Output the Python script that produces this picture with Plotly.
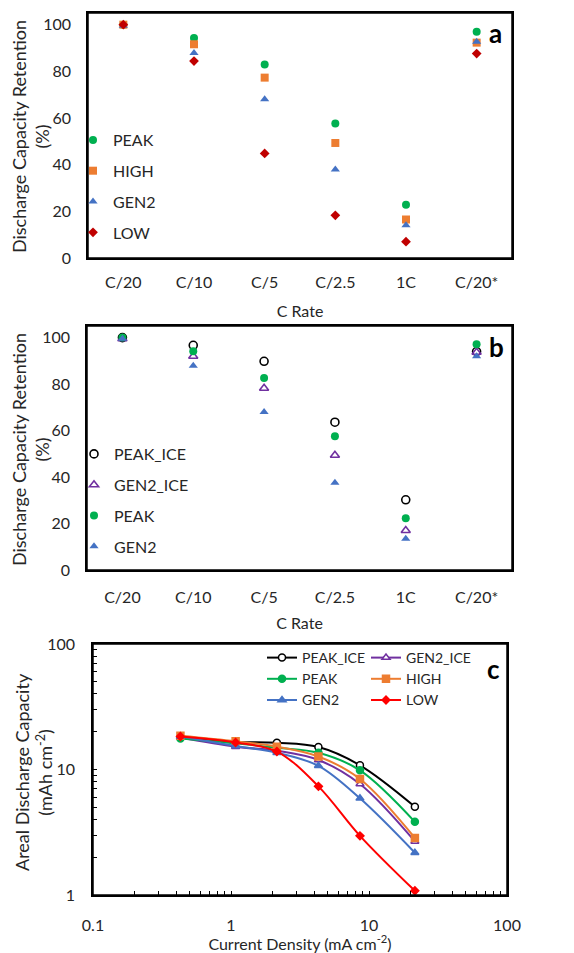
import plotly.graph_objects as go

# ---------------- data ----------------
rates = ["C/20", "C/10", "C/5", "C/2.5", "1C", "C/20*"]

# panel a (%)
a_peak = [100, 94.3, 82.9, 57.6, 22.8, 97.0]
a_high = [100, 91.6, 77.3, 49.3, 16.5, 92.3]
a_gen2 = [99.5, 87.9, 68.0, 37.9, 14.0, 92.7]
a_low = [100, 84.4, 44.8, 18.3, 7.0, 87.6]

# panel b (%)
b_peak_ice = [100, 96.7, 89.8, 63.6, 30.2, 94.0]
b_gen2_ice = [99.5, 92.0, 78.2, 49.4, 17.0, 93.7]
b_peak = [100, 94.1, 82.6, 57.6, 22.3, 97.1]
b_gen2 = [99.5, 87.9, 68.0, 37.5, 13.5, 92.0]

# panel c (mA cm-2, mAh cm-2)
current = [0.43, 1.08, 2.15, 4.3, 8.6, 21.5]
c_peak_ice = [18.0, 16.6, 16.3, 15.1, 10.8, 5.05]
c_gen2_ice = [18.0, 15.2, 14.1, 11.9, 7.66, 2.67]
c_peak = [17.7, 16.2, 14.9, 13.6, 9.85, 3.83]
c_high = [18.6, 16.8, 15.2, 12.7, 8.4, 2.85]
c_gen2 = [18.3, 15.4, 13.6, 10.7, 5.89, 2.17]
c_low = [18.3, 16.4, 13.9, 7.34, 2.96, 1.08]

FONT = "Lato"
W, H = 574, 953
GREEN = "#00B050"
ORANGE = "#ED7D31"
BLUE = "#4472C4"
DARKRED = "#C00000"
PURPLE = "#7030A0"
RED = "#FF0000"
TXT = "#262626"


def px_x(p):
    return p / W


def px_y(p):
    return 1 - p / H


fig = go.Figure()

# ---------- panel a ----------
for name, vals, sym, col in [
    ("PEAK", a_peak, "circle", GREEN),
    ("HIGH", a_high, "square", ORANGE),
    ("GEN2", a_gen2, "triangle-up", BLUE),
    ("LOW", a_low, "diamond", DARKRED),
]:
    fig.add_trace(go.Scatter(
        x=rates, y=vals, mode="markers", name=name,
        marker=dict(symbol=sym, color=col, size=8 if sym != "diamond" else 7.5, line=dict(width=0)),
        xaxis="x", yaxis="y", legend="legend", legendgroup="a_" + name,
    ))

# ---------- panel b ----------
for name, vals, sym, col, lc in [
    ("PEAK_ICE", b_peak_ice, "circle-open", "black", "black"),
    ("GEN2_ICE", b_gen2_ice, "triangle-up-open", PURPLE, PURPLE),
    ("PEAK", b_peak, "circle", GREEN, GREEN),
    ("GEN2", b_gen2, "triangle-up", BLUE, BLUE),
]:
    fig.add_trace(go.Scatter(
        x=rates, y=vals, mode="markers", name=name,
        marker=dict(symbol=sym, color=col, size=8,
                    line=dict(width=1.6 if "open" in sym else 0, color=lc)),
        xaxis="x2", yaxis="y2", legend="legend2", legendgroup="b_" + name,
    ))

# ---------- panel c ----------
c_series = [
    ("PEAK_ICE", c_peak_ice, "circle", "white", "black", "legend3"),
    ("GEN2_ICE", c_gen2_ice, "triangle-up", "white", PURPLE, "legend4"),
    ("PEAK", c_peak, "circle", GREEN, GREEN, "legend3"),
    ("HIGH", c_high, "square", ORANGE, ORANGE, "legend4"),
    ("GEN2", c_gen2, "triangle-up", BLUE, BLUE, "legend3"),
    ("LOW", c_low, "diamond", RED, RED, "legend4"),
]
for name, vals, sym, fill, lc, lg in c_series:
    fig.add_trace(go.Scatter(
        x=current, y=vals, mode="lines+markers", name=name,
        line=dict(color=lc, width=2, shape="spline", smoothing=1.0),
        marker=dict(symbol=sym, color=fill, size=7 if sym != "diamond" else 6,
                    line=dict(color=lc, width=1.5)),
        xaxis="x3", yaxis="y3", legend=lg,
    ))

tickfont = dict(family=FONT, size=16, color=TXT)
titlefont = dict(family=FONT, size=16, color=TXT)
ytitlefont = dict(family=FONT, size=18, color=TXT)

cat_x = dict(
    type="category", range=[-0.5, 5.5], showline=True, linecolor="black", linewidth=1.5,
    mirror=True, ticks="", showgrid=False, zeroline=False, tickfont=tickfont,
    fixedrange=True, automargin=False,
)
pct_y = dict(
    range=[0, 105], tickvals=[0, 20, 40, 60, 80, 100], showline=True, linecolor="black",
    linewidth=1.5, mirror=True, ticks="", showgrid=False, zeroline=False, tickfont=tickfont,
    ticklabelstandoff=12, automargin=False,
)

fig.update_layout(
    template="none",
    width=W, height=H, margin=dict(l=0, r=0, t=0, b=0, autoexpand=False),
    paper_bgcolor="white", plot_bgcolor="white",
    font=dict(family=FONT, size=16, color=TXT),
    xaxis=dict(cat_x, domain=[px_x(88), px_x(512)], anchor="y", ticklabelstandoff=9,
               title=dict(text="C Rate", font=titlefont, standoff=16)),
    yaxis=dict(pct_y, domain=[px_y(258), px_y(13)], anchor="x"),
    xaxis2=dict(cat_x, domain=[px_x(87), px_x(512)], anchor="y2", ticklabelstandoff=12,
                title=dict(text="C Rate", font=titlefont, standoff=13)),
    yaxis2=dict(pct_y, domain=[px_y(570), px_y(326)], anchor="x2"),
    xaxis3=dict(
        type="log", range=[-1, 2], domain=[px_x(93), px_x(507)], anchor="y3",
        tickvals=[0.1, 1, 10, 100], ticktext=["0.1", "1", "10", "100"],
        showline=True, linecolor="black", linewidth=1.5, mirror=True,
        ticks="inside", ticklen=4, tickwidth=1.2, tickcolor="black",
        minor=dict(ticks="inside", ticklen=4, tickwidth=1.2, tickcolor="black", dtick="D1", showgrid=False),
        showgrid=False, zeroline=False, tickfont=tickfont, ticklabelstandoff=15, automargin=False,
        title=dict(text="Current Density (mA cm<sup>-2</sup>)", font=titlefont, standoff=1),
    ),
    yaxis3=dict(
        type="log", range=[0, 2], domain=[px_y(895), px_y(644)], anchor="x3",
        tickvals=[1, 10, 100], ticktext=["1", "10", "100"],
        showline=True, linecolor="black", linewidth=1.5, mirror=True,
        ticks="inside", ticklen=4, tickwidth=1.2, tickcolor="black",
        minor=dict(ticks="inside", ticklen=4, tickwidth=1.2, tickcolor="black", dtick="D1", showgrid=False),
        showgrid=False, zeroline=False, tickfont=tickfont, ticklabelstandoff=13, automargin=False,
    ),
    legend=dict(x=px_x(73), y=px_y(123), xanchor="left", yanchor="top",
                bgcolor="rgba(0,0,0,0)", font=dict(family=FONT, size=16, color=TXT),
                tracegroupgap=7, itemclick=False),
    legend2=dict(x=px_x(74), y=px_y(437), xanchor="left", yanchor="top",
                 bgcolor="rgba(0,0,0,0)", font=dict(family=FONT, size=16, color=TXT),
                 tracegroupgap=7, itemclick=False),
    legend3=dict(x=px_x(262), y=px_y(642), xanchor="left", yanchor="top",
                 bgcolor="rgba(0,0,0,0)", font=dict(family=FONT, size=14, color=TXT),
                 tracegroupgap=0, itemwidth=30),
    legend4=dict(x=px_x(366), y=px_y(642), xanchor="left", yanchor="top",
                 bgcolor="rgba(0,0,0,0)", font=dict(family=FONT, size=14, color=TXT),
                 tracegroupgap=0, itemwidth=30),
    annotations=[
        # y-axis titles
        dict(text="Discharge Capacity Retention<br>(%)", x=px_x(31), y=px_y(137), xref="paper", yref="paper",
             xanchor="center", yanchor="middle", textangle=-90, showarrow=False, font=ytitlefont),
        dict(text="Discharge Capacity Retention<br>(%)", x=px_x(30), y=px_y(450), xref="paper", yref="paper",
             xanchor="center", yanchor="middle", textangle=-90, showarrow=False, font=ytitlefont),
        dict(text="Areal Discharge Capacity<br>(mAh cm<sup>-2</sup>)", x=px_x(33), y=px_y(772), xref="paper",
             yref="paper", xanchor="center", yanchor="middle", textangle=-90, showarrow=False, font=ytitlefont),
        # panel letters
        dict(text="<b>a</b>", x=px_x(495), y=px_y(33), xref="paper", yref="paper",
             xanchor="center", yanchor="middle", showarrow=False,
             font=dict(family=FONT, size=26, color="black")),
        dict(text="<b>b</b>", x=px_x(496), y=px_y(347), xref="paper", yref="paper",
             xanchor="center", yanchor="middle", showarrow=False,
             font=dict(family=FONT, size=26, color="black")),
        dict(text="<b>c</b>", x=px_x(493), y=px_y(669), xref="paper", yref="paper",
             xanchor="center", yanchor="middle", showarrow=False,
             font=dict(family=FONT, size=26, color="black")),
    ],
)

# plot-area frames
for ax in ["", "2", "3"]:
    fig.add_shape(type="rect", xref=f"x{ax} domain", yref=f"y{ax} domain",
                  x0=0, x1=1, y0=0, y1=1, line=dict(color="black", width=1.5),
                  fillcolor="rgba(0,0,0,0)", layer="above")

fig.write_html("out.html")
